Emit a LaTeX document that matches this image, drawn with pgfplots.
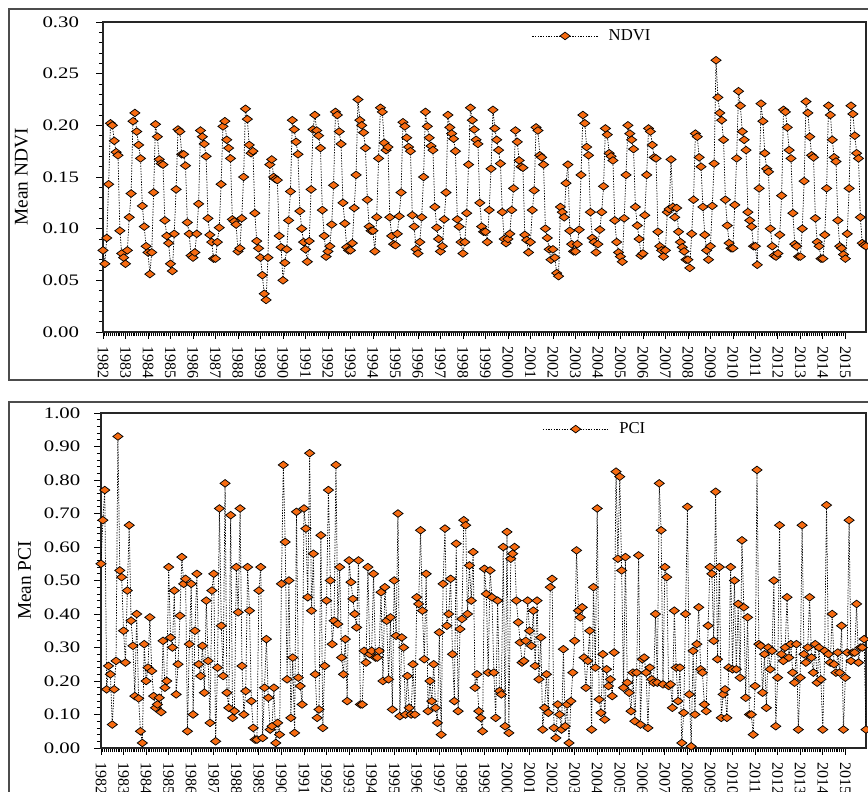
\documentclass[border=0pt]{standalone}
\usepackage{fontspec}
\setmainfont{Liberation Serif}
\usepackage{graphicx}
\usepackage{pgfplots}
\usepackage{pgfplotstable}
\pgfplotsset{compat=1.18}
\definecolor{mk}{RGB}{247,108,18}

% Monthly mean NDVI, Jan 1982 - Dec 2015 (one line per year)
\pgfplotstableread[header=false,row sep=\\]{
0.079\\0.066\\0.091\\0.143\\0.202\\0.200\\0.185\\0.174\\0.171\\0.098\\0.076\\0.072\\
0.066\\0.079\\0.111\\0.134\\0.204\\0.212\\0.194\\0.181\\0.168\\0.122\\0.102\\0.083\\
0.077\\0.056\\0.077\\0.135\\0.201\\0.189\\0.167\\0.163\\0.162\\0.108\\0.093\\0.086\\
0.066\\0.059\\0.095\\0.138\\0.196\\0.194\\0.172\\0.172\\0.161\\0.106\\0.095\\0.074\\
0.072\\0.077\\0.095\\0.124\\0.195\\0.189\\0.182\\0.170\\0.110\\0.094\\0.087\\0.071\\
0.071\\0.087\\0.101\\0.143\\0.199\\0.204\\0.186\\0.178\\0.168\\0.109\\0.107\\0.104\\
0.078\\0.081\\0.110\\0.150\\0.216\\0.206\\0.181\\0.173\\0.175\\0.115\\0.088\\0.081\\
0.072\\0.055\\0.037\\0.031\\0.072\\0.162\\0.167\\0.150\\0.148\\0.147\\0.093\\0.082\\
0.050\\0.067\\0.080\\0.108\\0.136\\0.205\\0.196\\0.184\\0.172\\0.117\\0.100\\0.087\\
0.080\\0.068\\0.088\\0.138\\0.196\\0.210\\0.195\\0.190\\0.178\\0.118\\0.093\\0.073\\
0.078\\0.083\\0.104\\0.142\\0.213\\0.210\\0.194\\0.182\\0.125\\0.105\\0.082\\0.079\\
0.079\\0.086\\0.120\\0.152\\0.225\\0.205\\0.200\\0.193\\0.178\\0.128\\0.102\\0.098\\
0.098\\0.078\\0.111\\0.168\\0.217\\0.213\\0.183\\0.176\\0.179\\0.111\\0.093\\0.085\\
0.084\\0.095\\0.112\\0.135\\0.203\\0.199\\0.188\\0.179\\0.175\\0.113\\0.102\\0.080\\
0.076\\0.087\\0.111\\0.150\\0.213\\0.199\\0.188\\0.180\\0.176\\0.121\\0.101\\0.090\\
0.078\\0.083\\0.109\\0.135\\0.210\\0.198\\0.192\\0.187\\0.175\\0.109\\0.102\\0.087\\
0.076\\0.087\\0.115\\0.162\\0.217\\0.205\\0.196\\0.186\\0.182\\0.125\\0.102\\0.097\\
0.097\\0.087\\0.118\\0.158\\0.215\\0.197\\0.186\\0.176\\0.163\\0.116\\0.090\\0.086\\
0.090\\0.095\\0.118\\0.139\\0.195\\0.184\\0.166\\0.160\\0.159\\0.094\\0.089\\0.077\\
0.087\\0.118\\0.137\\0.198\\0.195\\0.171\\0.169\\0.162\\0.100\\0.091\\0.080\\0.070\\
0.080\\0.072\\0.057\\0.054\\0.121\\0.116\\0.111\\0.144\\0.162\\0.098\\0.085\\0.078\\
0.078\\0.085\\0.099\\0.152\\0.210\\0.202\\0.179\\0.171\\0.116\\0.091\\0.087\\0.077\\
0.085\\0.099\\0.116\\0.141\\0.197\\0.191\\0.173\\0.170\\0.166\\0.108\\0.087\\0.077\\
0.073\\0.068\\0.110\\0.152\\0.200\\0.192\\0.186\\0.177\\0.121\\0.103\\0.090\\0.074\\
0.076\\0.113\\0.152\\0.197\\0.194\\0.181\\0.169\\0.168\\0.097\\0.083\\0.079\\0.073\\
0.079\\0.116\\0.119\\0.167\\0.121\\0.111\\0.120\\0.097\\0.087\\0.082\\0.078\\0.070\\
0.070\\0.062\\0.095\\0.128\\0.192\\0.189\\0.169\\0.160\\0.121\\0.094\\0.079\\0.070\\
0.083\\0.122\\0.163\\0.263\\0.227\\0.212\\0.205\\0.186\\0.128\\0.103\\0.086\\0.081\\
0.081\\0.123\\0.168\\0.233\\0.219\\0.194\\0.186\\0.176\\0.116\\0.108\\0.102\\0.083\\
0.083\\0.065\\0.139\\0.221\\0.204\\0.173\\0.158\\0.155\\0.100\\0.083\\0.074\\0.073\\
0.076\\0.094\\0.132\\0.215\\0.213\\0.198\\0.176\\0.168\\0.115\\0.085\\0.083\\0.073\\
0.073\\0.100\\0.146\\0.223\\0.212\\0.189\\0.171\\0.169\\0.110\\0.087\\0.083\\0.071\\
0.071\\0.094\\0.139\\0.219\\0.210\\0.186\\0.169\\0.165\\0.108\\0.083\\0.081\\0.075\\
0.071\\0.095\\0.139\\0.219\\0.211\\0.190\\0.173\\0.168\\0.111\\0.086\\0.084\\0.083\\
}\ndvi

% Monthly mean PCI, Jan 1982 - Dec 2015
\pgfplotstableread[header=false,row sep=\\]{
0.55\\0.68\\0.77\\0.175\\0.245\\0.22\\0.07\\0.175\\0.26\\0.93\\
0.53\\0.51\\0.35\\0.255\\0.47\\0.665\\0.38\\0.305\\0.155\\0.40\\
0.148\\0.05\\0.015\\0.31\\0.20\\0.24\\0.39\\0.23\\0.155\\0.12\\0.13\\
0.15\\0.107\\0.32\\0.18\\0.20\\0.54\\0.33\\0.30\\0.47\\0.16\\
0.25\\0.395\\0.57\\0.49\\0.505\\0.05\\0.31\\0.49\\0.10\\0.35\\
0.52\\0.25\\0.215\\0.305\\0.165\\0.44\\0.26\\0.075\\0.47\\0.52\\
0.02\\0.24\\0.715\\0.365\\0.215\\0.79\\0.165\\0.12\\0.695\\0.09\\
0.11\\0.54\\0.405\\0.715\\0.245\\0.10\\0.17\\0.54\\0.41\\0.14\\0.06\\
0.025\\0.025\\0.47\\0.54\\0.03\\0.18\\0.325\\0.15\\0.055\\0.065\\
0.18\\0.015\\0.075\\0.04\\0.49\\0.845\\0.615\\0.205\\0.50\\0.09\\
0.27\\0.045\\0.705\\0.21\\0.185\\0.13\\0.715\\0.655\\0.45\\0.88\\
0.41\\0.58\\0.22\\0.09\\0.115\\0.635\\0.06\\0.245\\0.44\\0.77\\0.50\\
0.31\\0.38\\0.845\\0.37\\0.54\\0.27\\0.22\\0.325\\0.14\\0.56\\
0.495\\0.445\\0.40\\0.36\\0.56\\0.13\\0.13\\0.29\\0.255\\0.54\\0.28\\
0.29\\0.52\\0.27\\0.27\\0.29\\0.465\\0.20\\0.48\\0.38\\0.205\\
0.39\\0.115\\0.50\\0.335\\0.70\\0.095\\0.33\\0.30\\0.10\\0.215\\0.12\\
0.10\\0.25\\0.10\\0.45\\0.43\\0.65\\0.41\\0.265\\0.52\\0.11\\
0.20\\0.14\\0.25\\0.12\\0.075\\0.345\\0.04\\0.49\\0.655\\0.365\\0.40\\
0.505\\0.28\\0.14\\0.61\\0.11\\0.355\\0.385\\0.68\\0.665\\0.40\\
0.545\\0.44\\0.585\\0.18\\0.22\\0.11\\0.09\\0.05\\0.535\\0.46\\0.225\\
0.53\\0.45\\0.225\\0.09\\0.44\\0.17\\0.16\\0.60\\0.065\\0.645\\
0.045\\0.565\\0.58\\0.60\\0.44\\0.375\\0.315\\0.255\\0.26\\0.32\\
0.44\\0.35\\0.305\\0.41\\0.245\\0.44\\0.205\\0.33\\0.055\\0.12\\
0.22\\0.105\\0.48\\0.505\\0.06\\0.03\\0.13\\0.10\\0.055\\0.295\\
0.065\\0.13\\0.015\\0.14\\0.225\\0.32\\0.59\\0.41\\0.39\\0.42\\
0.27\\0.18\\0.26\\0.35\\0.055\\0.48\\0.24\\0.715\\0.145\\0.105\\
0.28\\0.085\\0.235\\0.185\\0.205\\0.155\\0.285\\0.825\\0.565\\0.81\\
0.53\\0.18\\0.57\\0.195\\0.165\\0.11\\0.225\\0.08\\0.225\\0.575\\
0.07\\0.265\\0.27\\0.225\\0.06\\0.24\\0.205\\0.195\\0.40\\0.195\\
0.79\\0.65\\0.19\\0.54\\0.51\\0.185\\0.19\\0.12\\0.41\\0.24\\
0.14\\0.24\\0.015\\0.105\\0.40\\0.72\\0.16\\0.005\\0.29\\0.10\\
0.31\\0.42\\0.235\\0.225\\0.13\\0.11\\0.365\\0.54\\0.52\\0.32\\
0.765\\0.265\\0.54\\0.09\\0.16\\0.175\\0.09\\0.24\\0.54\\0.235\\
0.50\\0.235\\0.43\\0.21\\0.62\\0.42\\0.15\\0.39\\0.10\\0.10\\
0.04\\0.185\\0.83\\0.31\\0.305\\0.165\\0.28\\0.12\\0.30\\0.235\\
0.29\\0.50\\0.065\\0.21\\0.665\\0.28\\0.26\\0.30\\0.45\\0.27\\
0.31\\0.225\\0.195\\0.31\\0.055\\0.21\\0.665\\0.28\\0.255\\0.30\\
0.45\\0.27\\0.225\\0.31\\0.195\\0.30\\0.205\\0.055\\0.29\\0.725\\
0.28\\0.255\\0.40\\0.25\\0.225\\0.285\\0.225\\0.365\\0.055\\0.21\\
0.285\\0.68\\0.26\\0.285\\0.285\\0.43\\0.255\\0.30\\0.30\\0.325\\0.055\\
}\pci

\pgfplotsset{
  panel/.style={
    scale only axis,
    xmin=0, xmax=407,
    clip=true,
    tick pos=left,
    tick align=outside,
    xtick={0,12,...,396},
    xticklabels={1982,1983,1984,1985,1986,1987,1988,1989,1990,1991,1992,1993,1994,1995,1996,1997,1998,1999,2000,2001,2002,2003,2004,2005,2006,2007,2008,2009,2010,2011,2012,2013,2014,2015},
    minor x tick num=11,
    minor y tick num=4,
    xtick style={black, line width=0.6pt},
    ytick style={black, line width=0.6pt},
    major tick length=5pt,
    minor tick length=3pt,
    x tick label style={rotate=-90, anchor=west, font=\fontsize{12}{12}\selectfont, inner sep=5.5pt},
    y tick label style={font=\fontsize{12}{12}\selectfont},
    /pgf/number format/assume math mode=true,
    yticklabel={\scalebox{1.3}[1]{\pgfmathprintnumber[fixed,fixed zerofill,precision=2]{\tick}}},
    axis line style={black!85, line width=0.9pt},
    ylabel style={font=\fontsize{14.5}{15}\selectfont},
    legend style={draw=none, fill=none, font=\fontsize{12.5}{13}\selectfont, inner sep=0pt, legend cell align=left},
    legend image code/.code={\draw[##1,mark repeat=2,mark phase=2] plot coordinates {(0cm,0cm) (0.86cm,0cm) (1.72cm,0cm)};},
  },
  ser/.style={black, dash pattern=on 1pt off 1pt, line width=0.55pt, mark=diamond*, mark size=3.8pt,
    mark options={rotate=90, solid, fill=mk, draw=black, line width=0.55pt}},
}

\begin{document}
\begin{tikzpicture}
\useasboundingbox (0,0) rectangle (651pt,-594pt);
\clip (0,0) rectangle (651pt,-594pt);
\draw[black!70, line width=0.9pt] (6.75pt,-6.75pt) rectangle (680pt,-285pt);
\draw[black!70, line width=0.9pt] (6.75pt,-301.5pt) rectangle (680pt,-640pt);

\begin{axis}[panel,
  at={(77.25pt,-249pt)}, anchor=south west,
  width=572.25pt, height=232.5pt,
  ymin=0, ymax=0.30, ytick={0,0.05,...,0.30},
  y tick label style={xshift=-9.5pt},
  ylabel={Mean NDVI},
  ylabel style={at={(axis description cs:-0.107,0.5)}, anchor=center},
  legend style={at={(axis description cs:0.562,0.955)}, anchor=west},
]
\addplot[ser] table[x expr=\coordindex, y index=0] {\ndvi};
\addlegendentry{\hspace{6pt}NDVI}
\end{axis}

\begin{axis}[panel,
  at={(75.75pt,-561pt)}, anchor=south west,
  width=573.75pt, height=251.25pt,
  ymin=0, ymax=1.0, ytick={0,0.1,...,1.0},
  y tick label style={xshift=-7pt},
  ylabel={Mean PCI},
  ylabel style={at={(axis description cs:-0.1,0.5)}, anchor=center},
  legend style={at={(axis description cs:0.577,0.952)}, anchor=west},
]
\addplot[ser] table[x expr=\coordindex, y index=0] {\pci};
\addlegendentry{\hspace{6pt}PCI}
\end{axis}
\end{tikzpicture}
\end{document}
